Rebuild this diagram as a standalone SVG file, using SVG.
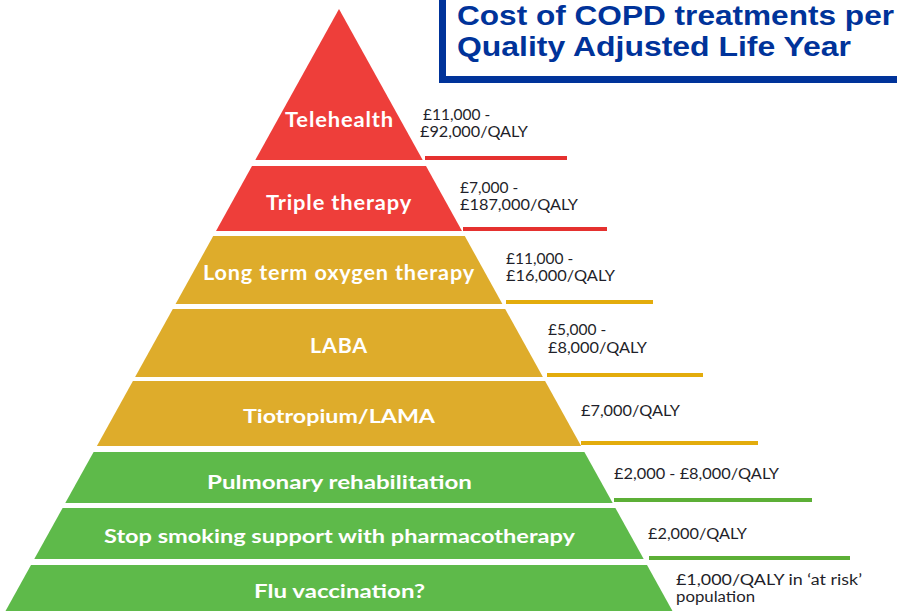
<svg xmlns="http://www.w3.org/2000/svg" width="897" height="611" viewBox="0 0 897 611">
<style>
.red{fill:#EE3E3A}
.gold{fill:#DEAC2B}
.green{fill:#5EBA4A}
.lbl{font-family:Lato,"Open Sans",sans-serif;font-weight:700;fill:#fff;text-anchor:middle;font-size:20.5px;letter-spacing:0.8px}
.cond{font-family:Lato,"Open Sans",sans-serif;font-weight:700;fill:#fff;text-anchor:middle;font-size:19.5px}
.cost{font-family:Lato,"Open Sans",sans-serif;font-size:15.5px;fill:#1f1f2a}
.costc{font-family:Lato,"Open Sans",sans-serif;font-size:14.5px;fill:#1f1f2a}
.rl{stroke:#E5312F;stroke-width:4}
.gl{stroke:#E3AC0C;stroke-width:4}
.nl{stroke:#5CAF36;stroke-width:4}
.title{font-family:"Liberation Sans",Arial,sans-serif;font-weight:700;font-size:27.5px;fill:#00339A}
</style>
<rect width="897" height="611" fill="#fff"/>
<g id="title">
<path d="M442.5,-5 V79.5 H905" fill="none" stroke="#00339A" stroke-width="7"/>
<text class="title" x="457" y="25" textLength="437" lengthAdjust="spacingAndGlyphs">Cost of COPD treatments per</text>
<text class="title" x="457" y="55.5" textLength="394" lengthAdjust="spacingAndGlyphs">Quality Adjusted Life Year</text>
</g>
<g id="telehealth">
<polygon class="red" points="339,9 422.7,160 255.3,160"/>
<text class="lbl" x="339.5" y="127" textLength="109" lengthAdjust="spacingAndGlyphs">Telehealth</text>
<text class="cost" x="423" y="120">£11,000 -</text>
<text class="cost" x="420" y="137" textLength="108" lengthAdjust="spacingAndGlyphs">£92,000/QALY</text>
</g>
<g id="triple-therapy">
<polygon class="red" points="252,166 426,166 462,231 216,231"/>
<text class="lbl" x="339" y="210" textLength="146" lengthAdjust="spacingAndGlyphs">Triple therapy</text>
<text class="cost" x="460" y="193">£7,000 -</text>
<text class="cost" x="460" y="210" textLength="118" lengthAdjust="spacingAndGlyphs">£187,000/QALY</text>
</g>
<g id="ltot">
<polygon class="gold" points="213.2,236 464.8,236 502.4,304 175.6,304"/>
<text class="lbl" x="339" y="280" textLength="272" lengthAdjust="spacingAndGlyphs">Long term oxygen therapy</text>
<text class="cost" x="506" y="264">£11,000 -</text>
<text class="cost" x="506" y="281" textLength="109" lengthAdjust="spacingAndGlyphs">£16,000/QALY</text>
</g>
<g id="laba">
<polygon class="gold" points="172.8,309 505.2,309 542.9,377 135.1,377"/>
<text class="lbl" x="339" y="353" textLength="58" lengthAdjust="spacingAndGlyphs">LABA</text>
<text class="cost" x="548" y="335">£5,000 -</text>
<text class="cost" x="548" y="353" textLength="99" lengthAdjust="spacingAndGlyphs">£8,000/QALY</text>
</g>
<g id="tiotropium">
<polygon class="gold" points="132.9,381 545.1,381 581.1,446 96.9,446"/>
<text class="cond" x="339" y="423" textLength="192" lengthAdjust="spacingAndGlyphs">Tiotropium/LAMA</text>
<text class="costc" x="581" y="416" textLength="99" lengthAdjust="spacingAndGlyphs">£7,000/QALY</text>
</g>
<g id="pulmonary-rehab">
<polygon class="green" points="93.6,452 584.4,452 612.7,503 65.3,503"/>
<text class="cond" x="339.5" y="489" textLength="265" lengthAdjust="spacingAndGlyphs">Pulmonary rehabilitation</text>
<text class="costc" x="614" y="479" textLength="165" lengthAdjust="spacingAndGlyphs">£2,000 - £8,000/QALY</text>
</g>
<g id="stop-smoking">
<polygon class="green" points="62.6,508 615.4,508 643.7,559 34.3,559"/>
<text class="cond" x="339.5" y="543" textLength="471" lengthAdjust="spacingAndGlyphs">Stop smoking support with pharmacotherapy</text>
<text class="costc" x="648" y="539" textLength="99" lengthAdjust="spacingAndGlyphs">£2,000/QALY</text>
</g>
<g id="flu-vaccination">
<polygon class="green" points="31,565 647,565 674.7,615 3.3,615"/>
<text class="cond" x="339.5" y="598" textLength="171" lengthAdjust="spacingAndGlyphs">Flu vaccination?</text>
<text class="costc" x="676" y="585" textLength="186" lengthAdjust="spacingAndGlyphs">£1,000/QALY in ‘at risk’</text>
<text class="costc" x="676" y="602" textLength="79" lengthAdjust="spacingAndGlyphs">population</text>
</g>
<g id="connectors">
<line class="rl" x1="425" y1="158" x2="567" y2="158"/>
<line class="rl" x1="463" y1="229" x2="607" y2="229"/>
<line class="gl" x1="506" y1="302" x2="653" y2="302"/>
<line class="gl" x1="547" y1="375" x2="703" y2="375"/>
<line class="gl" x1="581" y1="443" x2="758" y2="443"/>
<line class="nl" x1="614" y1="500" x2="812" y2="500"/>
<line class="nl" x1="649" y1="558" x2="850" y2="558"/>
</g>
</svg>
